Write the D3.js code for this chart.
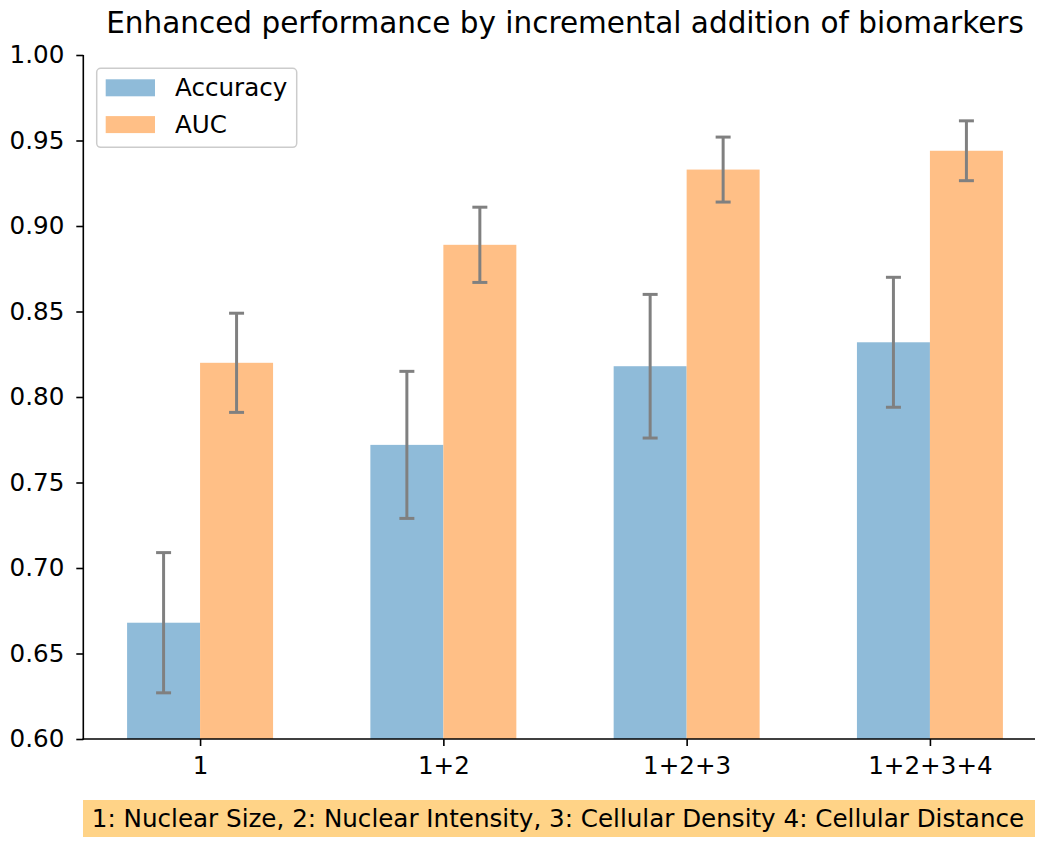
<!DOCTYPE html>
<html><head><meta charset="utf-8">
<script src="https://cdn.jsdelivr.net/npm/d3@7"></script>
<style>body{margin:0;background:#fff;} svg{display:block;font-family:"DejaVu Sans",sans-serif;}</style>
</head><body>
<script>
const categories = ["1", "1+2", "1+2+3", "1+2+3+4"];
const accuracy = [0.668, 0.772, 0.818, 0.832];
const accuracyErr = [0.041, 0.043, 0.042, 0.038];
const auc = [0.820, 0.889, 0.933, 0.944];
const aucErr = [0.029, 0.022, 0.019, 0.0175];
const yTicks = [0.60, 0.65, 0.70, 0.75, 0.80, 0.85, 0.90, 0.95, 1.00];
const seriesNames = ["Accuracy", "AUC"];
const footnote = "1: Nuclear Size, 2: Nuclear Intensity, 3: Cellular Density 4: Cellular Distance";

const W = 1050, H = 846;
const FS = 24.6;
const svg = d3.select("body").append("svg").attr("width", W).attr("height", H);

const x = d3.scaleLinear().domain([-0.48, 3.48]).range([83.3, 1046.7]);
const y = d3.scaleLinear().domain([0.6, 1.0]).range([739, 55]);
const bw = 0.3;
const colors = ["#8fbbd9", "#ffbf86"];

const series = [
  {name: seriesNames[0], vals: accuracy, errs: accuracyErr, off: -bw/2, color: colors[0]},
  {name: seriesNames[1], vals: auc, errs: aucErr, off: bw/2, color: colors[1]}
];

// bars
series.forEach(s => {
  svg.append("g").selectAll("rect").data(s.vals).join("rect")
    .attr("x", (d,i) => x(i + s.off - bw/2))
    .attr("width", x(bw) - x(0))
    .attr("y", d => y(d))
    .attr("height", d => y(0.6) - y(d))
    .attr("fill", s.color);
});

// error bars
series.forEach(s => {
  const g = svg.append("g").attr("stroke", "#808080").attr("stroke-width", 3);
  s.vals.forEach((d,i) => {
    const cx = x(i + s.off);
    g.append("line").attr("x1", cx).attr("x2", cx).attr("y1", y(d - s.errs[i])).attr("y2", y(d + s.errs[i]));
    [d - s.errs[i], d + s.errs[i]].forEach(v => {
      g.append("line").attr("x1", cx - 7.5).attr("x2", cx + 7.5).attr("y1", y(v)).attr("y2", y(v));
    });
  });
});

// y axis
const yAxis = svg.append("g").attr("transform", "translate(83.3,0)")
  .call(d3.axisLeft(y).tickValues(yTicks).tickFormat(d3.format(".2f")).tickSize(7).tickPadding(12));
// x axis
const xAxis = svg.append("g").attr("transform", "translate(0,739)")
  .call(d3.axisBottom(x).tickValues(d3.range(categories.length)).tickFormat(i => categories[i]).tickSize(7).tickPadding(11));
[yAxis, xAxis].forEach(a => {
  a.selectAll("text").attr("font-size", FS).attr("fill", "#000").attr("font-family", "DejaVu Sans");
  a.selectAll("line").attr("stroke", "#000").attr("stroke-width", 1.6);
  a.select(".domain").remove();
});
svg.append("line").attr("x1", 83.3).attr("x2", 83.3).attr("y1", 55).attr("y2", 739.8).attr("stroke", "#000").attr("stroke-width", 1.6);
svg.append("line").attr("x1", 82.5).attr("x2", 1035).attr("y1", 739).attr("y2", 739).attr("stroke", "#000").attr("stroke-width", 1.6);

// title
svg.append("text").attr("x", 565).attr("y", 33).attr("text-anchor", "middle")
  .attr("font-size", 29.5).attr("fill", "#000").text("Enhanced performance by incremental addition of biomarkers");

// legend
const lg = svg.append("g");
lg.append("rect").attr("x", 96.7).attr("y", 68.3).attr("width", 200).attr("height", 79).attr("rx", 4)
  .attr("fill", "#fff").attr("fill-opacity", 0.8).attr("stroke", "#cccccc").attr("stroke-width", 1.5);
series.forEach((s, i) => {
  const yy = 79.3 + i * 36.8;
  lg.append("rect").attr("x", 105.7).attr("y", yy).attr("width", 49.3).attr("height", 17).attr("fill", s.color);
  lg.append("text").attr("x", 175).attr("y", yy + 17).attr("font-size", FS).attr("fill", "#000").text(s.name);
});

// footnote box
const fb = svg.append("g");
fb.append("rect").attr("x", 83).attr("y", 800).attr("width", 952).attr("height", 37).attr("fill", "#ffd387");
fb.append("text").attr("x", 558).attr("y", 827).attr("text-anchor", "middle").attr("font-size", FS).attr("fill", "#000").text(footnote);
</script>
</body></html>
